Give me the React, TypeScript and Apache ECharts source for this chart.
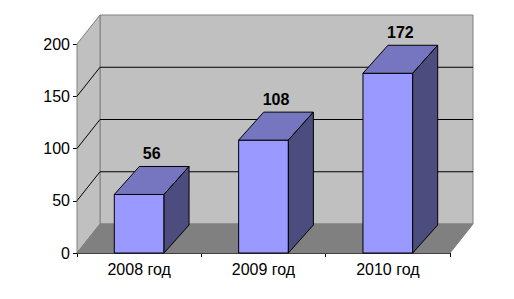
import React, { useEffect, useRef } from "react";
import * as echarts from "echarts";

const categories = ["2008 год", "2009 год", "2010 год"];
const values = [56, 108, 172];
const gridValues = [50, 100, 150];
const yMin = 0;
const yMax = 200;
const yInterval = 50;

const FONT = '"Liberation Sans", Arial, sans-serif';
const WALL_DX = 23;
const WALL_DY = -29;
const BAR_DX = 25;
const BAR_DY = -28;

export default function App() {
  const ref = useRef<HTMLDivElement>(null);
  useEffect(() => {
    document.body.style.margin = "0";
    const chart = echarts.init(ref.current!, null, { renderer: "svg" });
    chart.setOption({
      animation: false,
      backgroundColor: "#ffffff",
      grid: { left: 77, top: 44, width: 373, height: 209 },
      xAxis: {
        type: "category",
        data: categories,
        boundaryGap: true,
        axisLine: { lineStyle: { color: "#000", width: 1 } },
        axisTick: { show: true, length: 4, lineStyle: { color: "#000" } },
        axisLabel: { color: "#000", fontSize: 16, fontFamily: FONT, margin: 8 },
        splitLine: { show: false },
      },
      yAxis: {
        type: "value",
        min: yMin,
        max: yMax,
        interval: yInterval,
        axisLine: { show: true, lineStyle: { color: "#000", width: 1 } },
        axisTick: { show: true, length: 4, lineStyle: { color: "#000" } },
        axisLabel: { color: "#000", fontSize: 16, fontFamily: FONT, margin: 7 },
        splitLine: { show: false },
      },
      series: [
        {
          type: "custom",
          silent: true,
          data: [[0, 0]],
          encode: { x: 0, y: 1 },
          renderItem: (params: any, api: any) => {
            const cs = params.coordSys;
            const L = cs.x;
            const R = cs.x + cs.width;
            const y0 = api.coord([0, yMin])[1];
            const yT = api.coord([0, yMax])[1];
            const children: any[] = [];
            children.push({
              type: "polygon",
              shape: {
                points: [
                  [L + WALL_DX, yT + WALL_DY],
                  [R + WALL_DX, yT + WALL_DY],
                  [R + WALL_DX, y0 + WALL_DY],
                  [L + WALL_DX, y0 + WALL_DY],
                ],
              },
              style: { fill: "#c0c0c0", stroke: "#808080", lineWidth: 1 },
            });
            children.push({
              type: "polygon",
              shape: {
                points: [
                  [L, yT],
                  [L + WALL_DX, yT + WALL_DY],
                  [L + WALL_DX, y0 + WALL_DY],
                  [L, y0],
                ],
              },
              style: { fill: "#c0c0c0", stroke: "#808080", lineWidth: 1 },
            });
            children.push({
              type: "polygon",
              shape: {
                points: [
                  [L, y0],
                  [L + WALL_DX, y0 + WALL_DY],
                  [R + WALL_DX, y0 + WALL_DY],
                  [R, y0],
                ],
              },
              style: { fill: "#808080", stroke: "#808080", lineWidth: 1 },
            });
            gridValues.forEach((v) => {
              const y = api.coord([0, v])[1];
              children.push({
                type: "line",
                shape: { x1: L + WALL_DX, y1: y + WALL_DY, x2: R + WALL_DX, y2: y + WALL_DY },
                style: { stroke: "#000", lineWidth: 1 },
              });
              children.push({
                type: "line",
                shape: { x1: L, y1: y, x2: L + WALL_DX, y2: y + WALL_DY },
                style: { stroke: "#000", lineWidth: 1 },
              });
            });
            return { type: "group", children };
          },
        },
        {
          type: "custom",
          silent: true,
          data: values.map((v, i) => [i, v]),
          encode: { x: 0, y: 1 },
          renderItem: (params: any, api: any) => {
            const xi = api.value(0);
            const v = api.value(1);
            const [cx, cy] = api.coord([xi, v]);
            const by = api.coord([xi, 0])[1];
            const w = api.size([1, 0])[0] * 0.4;
            const l = cx - w / 2;
            const r = cx + w / 2;
            const stroke = { stroke: "#000", lineWidth: 1 };
            return {
              type: "group",
              children: [
                {
                  type: "polygon",
                  shape: { points: [[l, cy], [r, cy], [r, by], [l, by]] },
                  style: { fill: "#9999ff", ...stroke },
                },
                {
                  type: "polygon",
                  shape: {
                    points: [[l, cy], [r, cy], [r + BAR_DX, cy + BAR_DY], [l + BAR_DX, cy + BAR_DY]],
                  },
                  style: { fill: "#7575c0", ...stroke },
                },
                {
                  type: "polygon",
                  shape: {
                    points: [[r, cy], [r + BAR_DX, cy + BAR_DY], [r + BAR_DX, by + BAR_DY], [r, by]],
                  },
                  style: { fill: "#4c4c7e", ...stroke },
                },
                {
                  type: "text",
                  x: cx + BAR_DX / 2,
                  y: cy + BAR_DY - 13,
                  style: {
                    text: String(v),
                    fill: "#000",
                    font: `bold 16px ${FONT}`,
                    align: "center",
                    verticalAlign: "middle",
                  },
                },
              ],
            };
          },
        },
      ],
    });
    return () => chart.dispose();
  }, []);
  return <div ref={ref} style={{ width: 514, height: 299 }} />;
}
